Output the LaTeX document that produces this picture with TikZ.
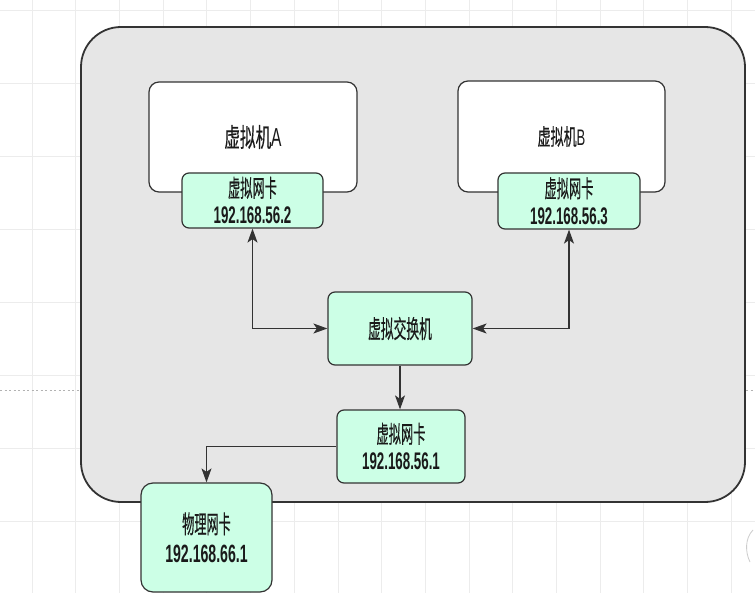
\documentclass[tikz,border=0pt]{standalone}
\usepackage{fontspec}
\usepackage{graphicx}
\setmainfont{Liberation Sans}
\newfontfamily\cjk[FakeBold=0.6]{Noto Sans CJK SC}
\usetikzlibrary{arrows.meta}
\definecolor{hostfill}{HTML}{E6E6E6}
\definecolor{edge}{HTML}{333333}
\definecolor{mint}{HTML}{CCFFE6}
\definecolor{gridc}{HTML}{ECECEC}
\definecolor{txt}{HTML}{1A1A1A}
\newcommand{\sqz}[2][0.6]{\scalebox{#1}[1]{#2}}
\tikzset{
  hostbox/.style={draw=edge, fill=hostfill, line width=1.8pt, rounded corners=40pt, inner sep=0pt},
  vmbox/.style={draw=edge, fill=white, line width=1.2pt, rounded corners=10pt, inner sep=0pt, text=txt},
  greenbox/.style={draw=edge, fill=mint, line width=1.2pt, rounded corners=7pt, inner sep=0pt, align=center, text=txt},
  conn/.style={draw=edge, line width=1.5pt},
  tip/.tip={Stealth[length=14pt,width=10pt,inset=3.5pt]}
}
\begin{document}
\begin{tikzpicture}[x=1pt,y=-1pt]
\useasboundingbox (0,0) rectangle (755,593);
\fill[white] (0,0) rectangle (755,593);
% background grid
\foreach \k in {0,...,16} {\draw[gridc, line width=0.7pt] ({32+43.7*\k},0) -- ({32+43.7*\k},593);}
\foreach \k in {0,...,8} {\draw[gridc, line width=0.7pt] (0,{10+73*\k}) -- (755,{10+73*\k});}
\draw[gray!60, line width=1pt, dash pattern=on 2pt off 2.5pt] (0,391) -- (81,391);
\draw[gray!60, line width=1pt, dash pattern=on 2pt off 2.5pt] (746,391) -- (755,391);
% host
\node[hostbox, minimum width=664pt, minimum height=475pt] (host) at (413,264.5) {};
% virtual machines
\node[vmbox, minimum width=208pt, minimum height=110pt, font=\fontsize{26}{30}\selectfont] (vmA) at (253,137) {\sqz[0.6]{{\cjk 虚拟机}A}};
\node[vmbox, minimum width=207pt, minimum height=111pt, font=\fontsize{22.5}{27}\selectfont] (vmB) at (561.5,136.5) {\sqz[0.58]{{\cjk 虚拟机}B}};
% NICs
\node[greenbox, minimum width=141pt, minimum height=55pt, font=\fontsize{24}{27}\selectfont] (nicA) at (252.5,200.5) {\sqz[0.51]{\cjk 虚拟网卡}\\\sqz[0.555]{\bfseries 192.168.56.2}};
\node[greenbox, minimum width=142pt, minimum height=56pt, font=\fontsize{24}{27}\selectfont] (nicB) at (569,201) {\sqz[0.51]{\cjk 虚拟网卡}\\\sqz[0.555]{\bfseries 192.168.56.3}};
\node[greenbox, minimum width=144pt, minimum height=73pt, font=\fontsize{25}{28}\selectfont] (sw) at (400,328.5) {\sqz[0.51]{\cjk 虚拟交换机}};
\node[greenbox, minimum width=128pt, minimum height=73pt, font=\fontsize{24}{27}\selectfont] (nicH) at (401,446.5) {\sqz[0.51]{\cjk 虚拟网卡}\\\sqz[0.555]{\bfseries 192.168.56.1}};
\node[greenbox, minimum width=131pt, minimum height=109pt, rounded corners=12pt, font=\fontsize{25}{29}\selectfont] (phy) at (206.5,537.5) {\sqz[0.485]{\cjk 物理网卡}\\\sqz[0.565]{\bfseries 192.168.66.1}};
% connectors
\draw[conn, {tip}-{tip}] (nicA.south) |- (sw.west);
\draw[conn, {tip}-{tip}] (nicB.south) |- (sw.east);
\draw[conn, -{tip}, line width=1.2pt] (sw.south) -- (sw.south |- nicH.north);
\draw[conn, -{tip}, line width=1.2pt] (nicH.west) -| (phy.north);
% faint stroke at right edge
\draw[gray!40, line width=0.8pt] (753,530) .. controls (745,538) and (745,552) .. (750,562);
\end{tikzpicture}
\end{document}
